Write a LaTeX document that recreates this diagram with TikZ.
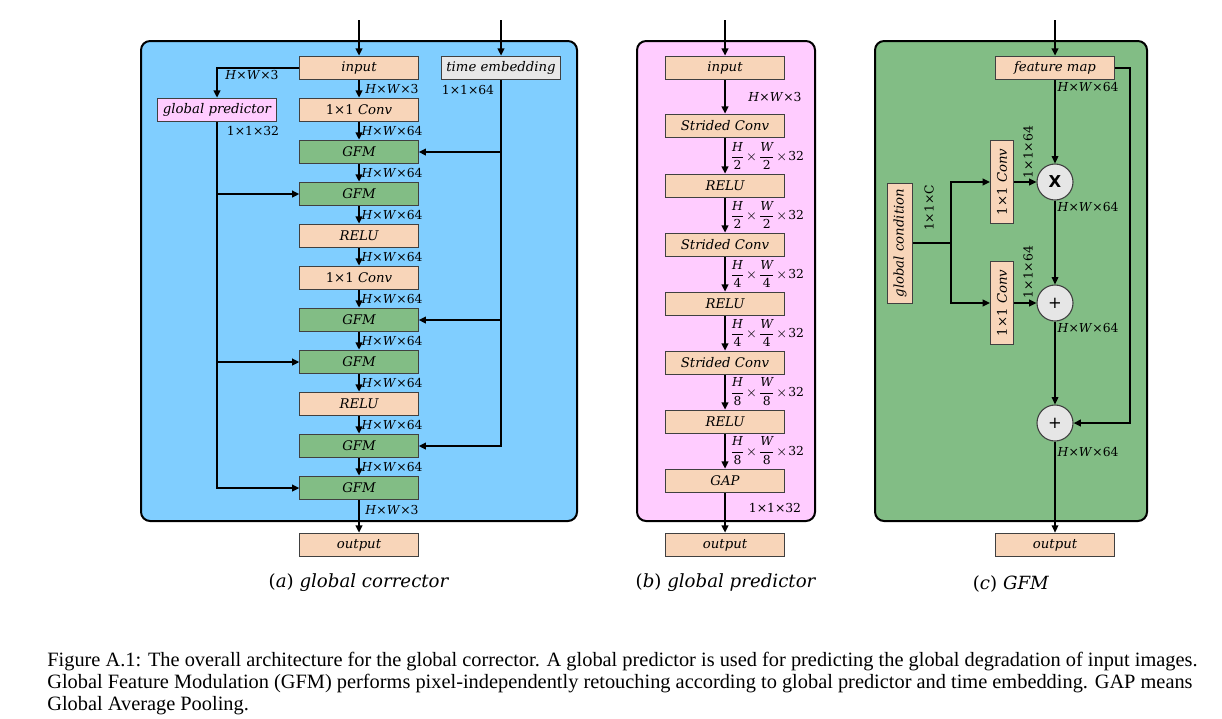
\documentclass[tikz,border=0pt]{standalone}
\usepackage{amsmath}
\usepackage{fontspec}
\setmainfont{Liberation Serif}
\newfontfamily\diafont{DejaVu Serif}
\newfontfamily\opfont{DejaVu Sans}
\usetikzlibrary{arrows.meta}

\definecolor{panelblue}{RGB}{128,206,255}
\definecolor{panelpink}{RGB}{255,204,255}
\definecolor{gfmgreen}{RGB}{130,189,133}
\definecolor{peach}{RGB}{248,213,185}
\definecolor{embgray}{RGB}{232,232,232}
\definecolor{opgray}{RGB}{230,230,230}

\newcommand{\hw}[1]{\textit{H}×\textit{W}×#1}
\newcommand{\hwq}[1]{$\dfrac{\textit{H}}{\text{#1}}\!\times\!\dfrac{\textit{W}}{\text{#1}}\!\times\!\text{32}$}

\begin{document}
\begin{tikzpicture}[x=0.55pt, y=-0.55pt,
    panel/.style={draw=black, line width=1.1pt, rounded corners=5pt},
    layer/.style={draw=black!75, line width=0.55pt, fill=peach, minimum width=65pt,
        minimum height=13pt, inner sep=0pt, font=\diafont\fontsize{7.3}{8}\selectfont\itshape},
    dims/.style={inner sep=0pt, font=\diafont\fontsize{6.8}{8}\selectfont},
    flow/.style={line width=1.1pt, -{Triangle[length=4pt,width=3.6pt]}},
    wire/.style={line width=0.8pt, -{Triangle[length=4pt,width=3.6pt]}},
    op/.style={circle, draw=black!75, line width=0.6pt, fill=opgray, minimum size=19.8pt,
        inner sep=0pt, font=\opfont\fontsize{9}{10}\selectfont},
    title/.style={font=\diafont\fontsize{10}{12}\selectfont}]
    \useasboundingbox (0,0) rectangle (1222,718);

    % (a) global corrector
    \draw[panel, fill=panelblue] (141,41) rectangle (577,521);
    \foreach \i/\y/\col/\txt in {1/68/peach/input, 2/110/peach/{\textup{1×1} Conv},
        3/152/gfmgreen/GFM, 4/194/gfmgreen/GFM, 5/236/peach/RELU, 6/278/peach/{\textup{1×1} Conv},
        7/320/gfmgreen/GFM, 8/362/gfmgreen/GFM, 9/404/peach/RELU, 10/446/gfmgreen/GFM,
        11/488/gfmgreen/GFM, 12/545/peach/output}
        \node[layer, fill=\col] (a\i) at (359,\y) {\txt};
    \coordinate (ain) at (359,20);
    \draw[flow] (ain) -- (a1);
    \foreach \i [count=\j from 2] in {1,...,11}
        \draw[flow] (a\i) -- (a\j);
    \foreach \i/\y/\c in {1/89/3, 2/131/64, 3/173/64, 4/215/64, 5/257/64, 6/299/64,
        7/341/64, 8/383/64, 9/425/64, 10/467/64, 11/510/3}
        \node[dims] (da\i) at (392,\y) {\hw{\c}};

    \node[layer, fill=embgray] (temb) at (501,68) {time embedding};
    \coordinate (tin) at (501,20);
    \draw[flow] (tin) -- (temb);
    \node[dims] (dt) at (468,90) {1×1×64};
    \draw[flow] (temb) |- (a10);
    \foreach \k in {3,7}
        \draw[flow] (temb |- a\k) -- (a\k);

    \node[layer, fill=panelpink] (gp) at (217,110) {global predictor};
    \draw[flow] (a1) -| (gp);
    \node[dims] (dg1) at (252,75) {\hw{3}};
    \node[dims] (dg2) at (253,131) {1×1×32};
    \draw[flow] (gp) |- (a11);
    \foreach \k in {4,8}
        \draw[flow] (gp |- a\k) -- (a\k);

    \node[title] (ta) at (359,583) {(\textit{a}) \textit{global corrector}};

    % (b) global predictor
    \draw[panel, fill=panelpink] (637,41) rectangle (815,521);
    \foreach \i/\y/\txt in {1/68/input, 2/126/Strided Conv, 3/186/RELU, 4/245/Strided Conv,
        5/304/RELU, 6/363/Strided Conv, 7/422/RELU, 8/481/GAP, 9/545/output}
        \node[layer] (b\i) at (725,\y) {\txt};
    \coordinate (bin) at (725,20);
    \draw[flow] (bin) -- (b1);
    \foreach \i [count=\j from 2] in {1,...,8}
        \draw[flow] (b\i) -- (b\j);
    \node[dims] (db1) at (775,97) {\hw{3}};
    \foreach \i/\y/\d in {2/156/2, 3/215/2, 4/274/4, 5/333/4, 6/392/8, 7/451/8}
        \node[dims] (db\i) at (767,\y) {\hwq{\d}};
    \node[dims] (db8) at (775,508) {1×1×32};

    \node[title] (tb) at (726,583) {(\textit{b}) \textit{global predictor}};

    % (c) GFM
    \draw[panel, fill=gfmgreen] (875,41) rectangle (1147,521);
    \node[layer] (fm) at (1055,68) {feature map};
    \node[op] (mul) at (1055,182) {\bfseries X};
    \node[op] (add1) at (1055,303) {+};
    \node[op] (add2) at (1055,423) {+};
    \node[layer] (cout) at (1055,545) {output};
    \node[layer, rotate=90, minimum width=46pt, minimum height=12.7pt] (cv1) at (1002,182) {\textup{1×1} Conv};
    \node[layer, rotate=90, minimum width=46pt, minimum height=12.7pt] (cv2) at (1002,303) {\textup{1×1} Conv};
    \node[layer, rotate=90, minimum width=66pt, minimum height=13.7pt] (gc) at (900,243) {global condition};
    \coordinate (cin) at (1055,20);
    \coordinate (split) at (951,243);

    \draw[flow] (cin) -- (fm);
    \draw[wire] (fm) -- (mul);
    \draw[wire] (mul) -- (add1);
    \draw[wire] (add1) -- (add2);
    \draw[wire] (add2) -- (cout);
    \draw[line width=1.1pt] (gc) -- (split);
    \draw[flow] (split) |- (cv1);
    \draw[flow] (split) |- (cv2);
    \draw[flow] (cv1) -- (mul);
    \draw[flow] (cv2) -- (add1);
    \draw[flow] (fm.east) -- ++(15,0) |- (add2);

    \foreach \y [count=\i] in {87,207,328,452}
        \node[dims] (dc\i) at (1088,\y) {\hw{64}};
    \node[dims, rotate=90] (dk1) at (1028,152) {1×1×64};
    \node[dims, rotate=90] (dk2) at (1028,272) {1×1×64};
    \node[dims, rotate=90] (dkc) at (929,208) {1×1×C};

    \node[title] (tc) at (1011,584) {(\textit{c}) \textit{GFM}};

    % caption
    \node[anchor=north west, align=left, inner sep=0pt, font=\fontsize{11.2}{12}\selectfont] (figcap) at (47,652)
        {Figure A.1: The overall architecture for the global corrector. A global predictor is used for predicting the global degradation of input images.\\
         Global Feature Modulation (GFM) performs pixel-independently retouching according to global predictor and time embedding. GAP means\\
         Global Average Pooling.};
\end{tikzpicture}
\end{document}
